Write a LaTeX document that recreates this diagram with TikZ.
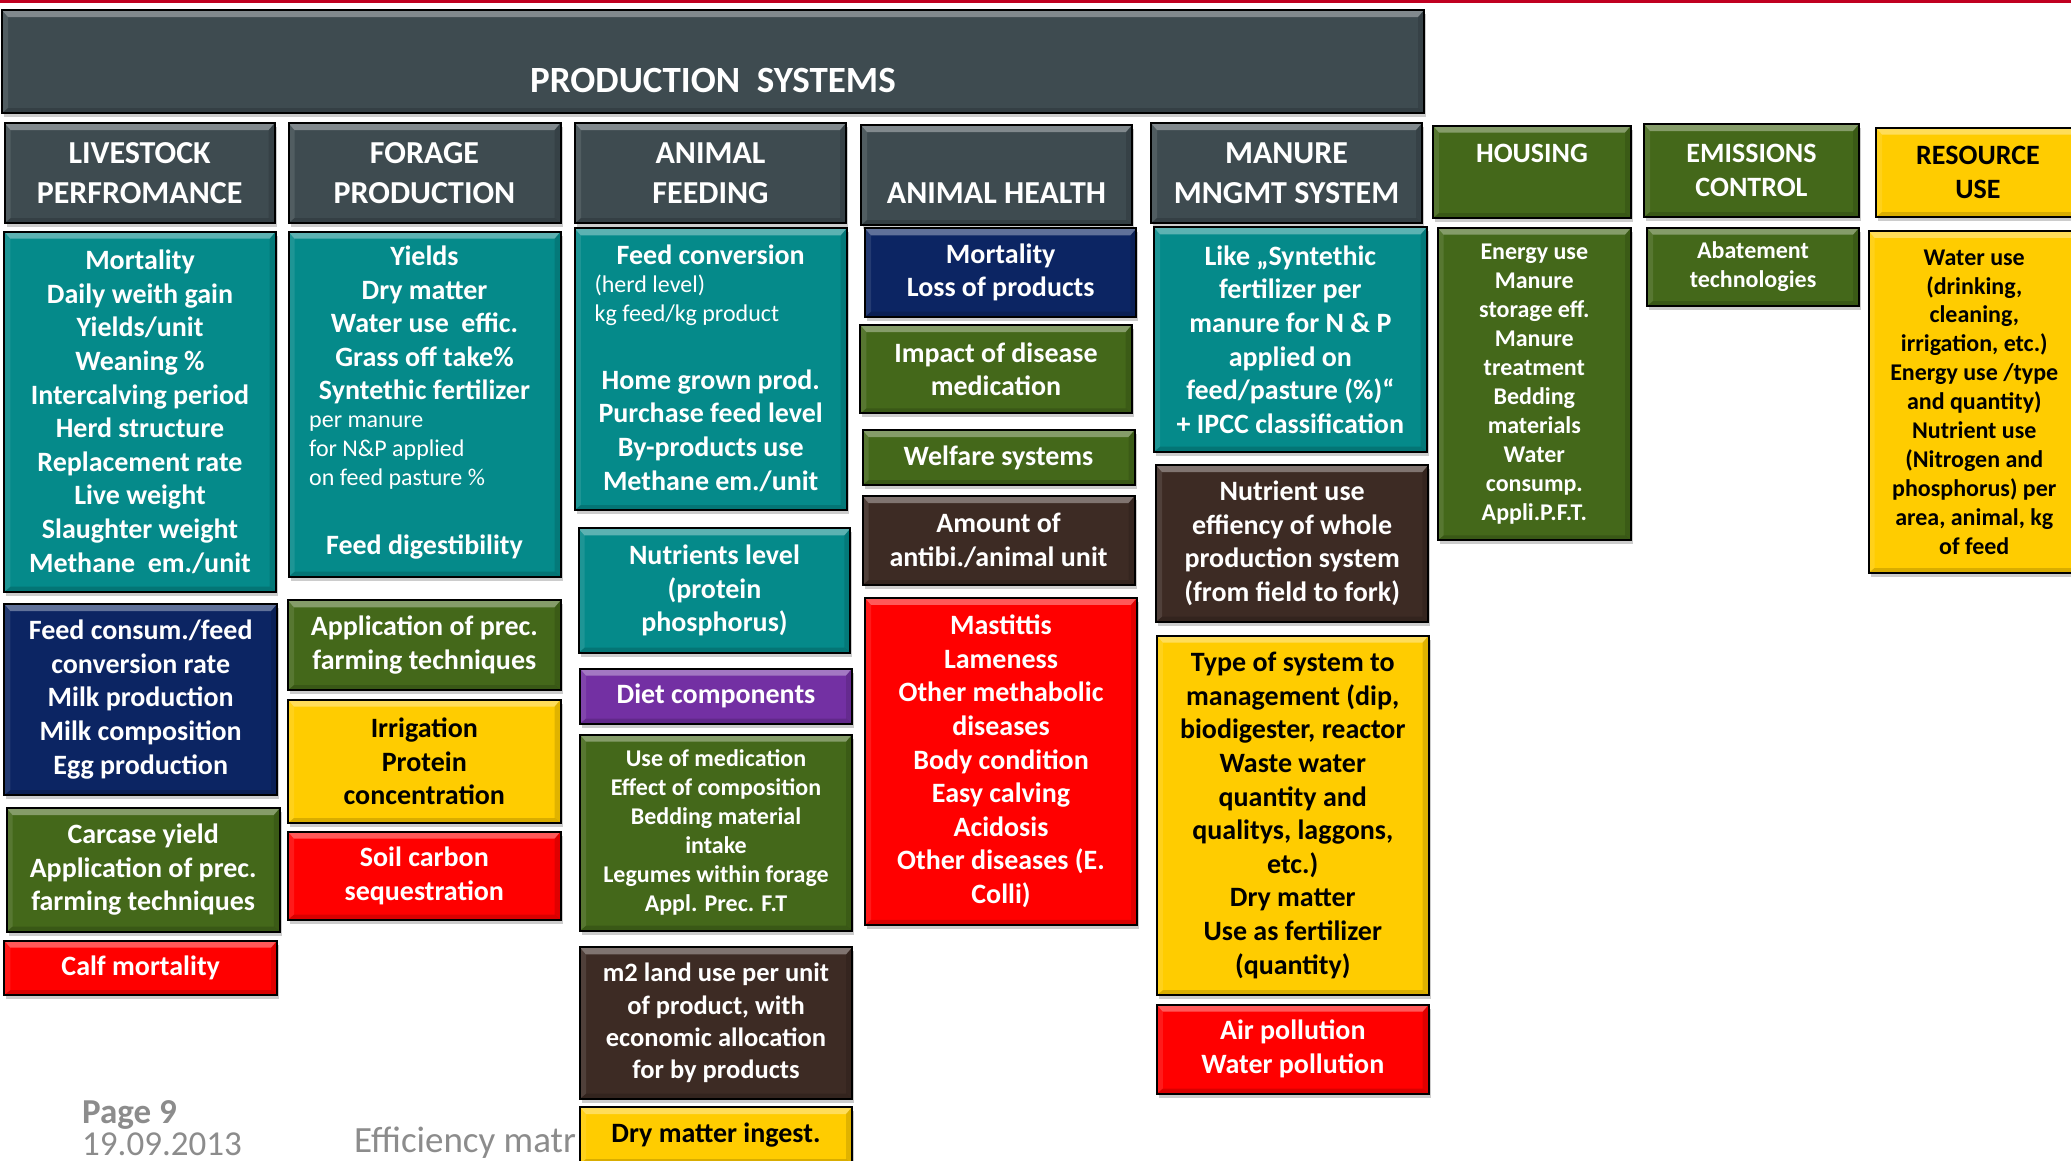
\documentclass[tikz,border=0pt]{standalone}
\usepackage{fontspec}
\setmainfont{Carlito}
\usetikzlibrary{shadows}

\definecolor{hdr}{HTML}{3E4B50}
\definecolor{tl}{HTML}{058A8A}
\definecolor{nv}{HTML}{0C2563}
\definecolor{gr}{HTML}{44681A}
\definecolor{yl}{HTML}{FFCC00}
\definecolor{rd}{HTML}{FF0000}
\definecolor{br}{HTML}{3D2B24}
\definecolor{pu}{HTML}{7330A3}
\definecolor{ft}{HTML}{8C8C8C}
\definecolor{topred}{HTML}{C00020}

\newcommand\ttlfnt{\bfseries\fontsize{37}{42}\selectfont}
\newcommand\hfnt{\bfseries\fontsize{32}{40}\selectfont}
\newcommand\bfnt{\bfseries\fontsize{28}{33.6}\selectfont}
\newcommand\mfnt{\bfseries\fontsize{26.5}{32.2}\selectfont}
\newcommand\sfnt{\bfseries\fontsize{24}{28.9}\selectfont}
\newcommand\rfnt{\fontsize{24}{29}\selectfont}
\newcommand\ffnt{\fontsize{35}{40}\selectfont}

\tikzset{
  bevel/.style={path picture={
    \fill[white, opacity=.35] (path picture bounding box.north west) -- (path picture bounding box.north east)
      -- ([shift={(-6pt,-7pt)}]path picture bounding box.north east) -- ([shift={(6pt,-7pt)}]path picture bounding box.north west) -- cycle;
    \fill[white, opacity=.1] (path picture bounding box.north west) -- ([shift={(6pt,-7pt)}]path picture bounding box.north west)
      -- ([shift={(6pt,5pt)}]path picture bounding box.south west) -- (path picture bounding box.south west) -- cycle;
    \fill[black, opacity=.12] (path picture bounding box.north east) -- ([shift={(-6pt,-7pt)}]path picture bounding box.north east)
      -- ([shift={(-6pt,5pt)}]path picture bounding box.south east) -- (path picture bounding box.south east) -- cycle;
    \fill[black, opacity=.15] (path picture bounding box.south west) -- (path picture bounding box.south east)
      -- ([shift={(-6pt,5pt)}]path picture bounding box.south east) -- ([shift={(6pt,5pt)}]path picture bounding box.south west) -- cycle;
  }},
  cell/.style={draw=black, line width=2pt, fill=#1, anchor=north west, inner sep=0pt, outer sep=0pt,
    align=center, text=white, font=\bfnt, bevel,
    drop shadow={shadow xshift=2pt, shadow yshift=-4pt, fill=black, opacity=.2}},
  ycell/.style={cell=yl, text=black},
  wh/.style 2 args={minimum width=#1pt, minimum height=#2pt},
  txt/.style={text=white, font=\bfnt, align=center, inner sep=0pt},
  foot/.style={anchor=base west, text=ft, font=\ffnt, inner sep=0pt},
}

\begin{document}
\begin{tikzpicture}[x=1pt, y=-1pt]
  \useasboundingbox (0,0) rectangle (2071,1160);
  \clip (0,0) rectangle (2071,1160);
  \fill[white] (0,0) rectangle (2071,1160);
  \fill[topred] (0,0) rectangle (2071,2.5);

  \node[foot, font=\ffnt\bfseries] (pg) at (82,1123) {Page 9};
  \node[foot] (dt) at (82,1155) {19.09.2013};
  \node[foot, font=\fontsize{37}{40}\selectfont] (ef) at (354,1152) {Efficiency matr};

  \node[cell=hdr, wh={1422}{103}, font=\ttlfnt, text height=62pt, text depth=0pt] (T) at (2,10) {PRODUCTION\ \ SYSTEMS};

  \node[cell=hdr, wh={270}{100}, font=\hfnt] (H1) at (4.6,123) {LIVESTOCK\\PERFROMANCE};
  \node[cell=hdr, wh={272}{100}, font=\hfnt] (H2) at (288.5,123) {FORAGE\\PRODUCTION};
  \node[cell=hdr, wh={271}{100}, font=\hfnt] (H3) at (575,123) {ANIMAL\\FEEDING};
  \node[cell=hdr, wh={271}{100}, font=\hfnt, text height=56pt, text depth=0pt] (H4) at (861,125) {ANIMAL HEALTH};
  \node[cell=hdr, wh={271}{100}, font=\hfnt] (H5) at (1151,123) {MANURE\\MNGMT SYSTEM};
  \node[cell=gr, wh={198}{92.5}, text height=0pt, text depth=19.5pt] (H6) at (1433,125.5) {HOUSING};
  \node[cell=gr, wh={215}{93}] (H7) at (1644,124) {EMISSIONS\\CONTROL};
  \node[ycell, wh={204}{89.5}] (H8) at (1876,127.5) {RESOURCE\\USE};

  \node[cell=tl, wh={271.2}{360}] (L1) at (4.4,231.7) {Mortality\\Daily weith gain\\Yields/unit\\Weaning \%\\Intercalving period\\Herd structure\\Replacement rate\\Live weight\\Slaughter weight\\Methane\ \ em./unit};
  \node[cell=nv, wh={272.6}{191}] (L2) at (4.4,604) {Feed consum./feed\\conversion rate\\Milk production\\Milk composition\\Egg production};
  \node[cell=gr, wh={273.2}{123.5}] (L3) at (6.6,808) {Carcase yield\\Application of prec.\\farming techniques};
  \node[cell=rd, wh={272.6}{54.3}] (L4) at (4.4,940.7) {Calf mortality};

  \node[cell=tl, wh={271.9}{345}] (F1) at (288.6,231.7) {};
  \node[txt] (F1a) at (424.5,325) {Yields\\Dry matter\\Water use\ \ effic.\\Grass off take\%\\Syntethic fertilizer};
  \node[txt, font=\rfnt, align=left, anchor=west] (F1b) at (309,452.4) {per manure\\for N\&P applied\\on feed pasture \%};
  \node[txt] (F1c) at (424.5,546.8) {Feed digestibility};
  \node[cell=gr, wh={272.6}{89.7}] (F2) at (288,600.3) {Application of prec.\\farming techniques};
  \node[ycell, wh={272.6}{123.5}] (F3) at (288,699.5) {Irrigation\\Protein\\concentration};
  \node[cell=rd, wh={272.6}{88}] (F4) at (288,831.6) {Soil carbon\\sequestration};

  \node[cell=tl, wh={271.9}{281.7}] (A1) at (574.8,228.3) {};
  \node[txt] (A1a) at (710.7,255) {Feed conversion};
  \node[txt, font=\rfnt, align=left, anchor=west] (A1b) at (594.4,299.8) {(herd level)\\kg feed/kg product};
  \node[txt] (A1c) at (710.7,430.6) {Home grown prod.\\Purchase feed level\\By-products use\\Methane em./unit};
  \node[cell=tl, wh={271.9}{124.4}] (A2) at (578.5,528.3) {Nutrients level\\(protein\\phosphorus)};
  \node[cell=pu, wh={272}{55}] (A3) at (580,668.5) {Diet components};
  \node[cell=gr, wh={272}{196.1}, font=\sfnt] (A4) at (580,734.6) {Use of medication\\Effect of composition\\Bedding material\\intake\\Legumes within forage\\Appl. Prec. F.T};
  \node[cell=br, wh={272}{151.3}, font=\mfnt] (A5) at (580,947.4) {m2 land use per unit\\of product, with\\economic allocation\\for by products};
  \node[ycell, wh={272}{57}] (A6) at (580,1107) {Dry matter ingest.};

  \node[cell=nv, wh={271.4}{88.4}] (D1) at (865,228.3) {Mortality\\Loss of products};
  \node[cell=gr, wh={271.2}{88.3}] (D2) at (860.4,325) {Impact of disease\\medication};
  \node[cell=gr, wh={271.9}{55}] (D3) at (862.6,430) {Welfare systems};
  \node[cell=br, wh={271.9}{89}] (D4) at (862.6,496) {Amount of\\antibi./animal unit};
  \node[cell=rd, wh={272}{327}] (D5) at (865,597.8) {Mastittis\\Lameness\\Other methabolic\\diseases\\Body condition\\Easy calving\\Acidosis\\Other diseases (E.\\Colli)};

  \node[cell=tl, wh={272.7}{224.4}] (M1) at (1154,227.3) {Like „Syntethic\\fertilizer per\\manure for N \& P\\applied on\\feed/pasture (\%)“\\+ IPCC classification};
  \node[cell=br, wh={272.3}{156.7}] (M2) at (1156,465) {Nutrient use\\effiency of whole\\production system\\(from field to fork)};
  \node[ycell, wh={271.7}{359.6}] (M3) at (1156.9,635.5) {Type of system to\\management (dip,\\biodigester, reactor\\Waste water\\quantity and\\qualitys, laggons,\\etc.)\\Dry matter\\Use as fertilizer\\(quantity)};
  \node[cell=rd, wh={271.7}{88.8}] (M4) at (1156.9,1004.7) {Air pollution\\Water pollution};

  \node[cell=gr, wh={193.4}{312.7}, font=\sfnt] (S1) at (1437.6,227.7) {Energy use\\Manure\\storage eff.\\Manure\\treatment\\Bedding\\materials\\Water\\consump.\\Appli.P.F.T.};
  \node[cell=gr, wh={212}{78.3}, font=\sfnt] (E1) at (1647,227.7) {Abatement\\technologies};
  \node[ycell, wh={211.5}{342.2}, font=\sfnt] (R1) at (1868.5,230.8) {Water use\\(drinking,\\cleaning,\\irrigation, etc.)\\Energy use /type\\and quantity)\\Nutrient use\\(Nitrogen and\\phosphorus) per\\area, animal, kg\\of feed};
\end{tikzpicture}
\end{document}
